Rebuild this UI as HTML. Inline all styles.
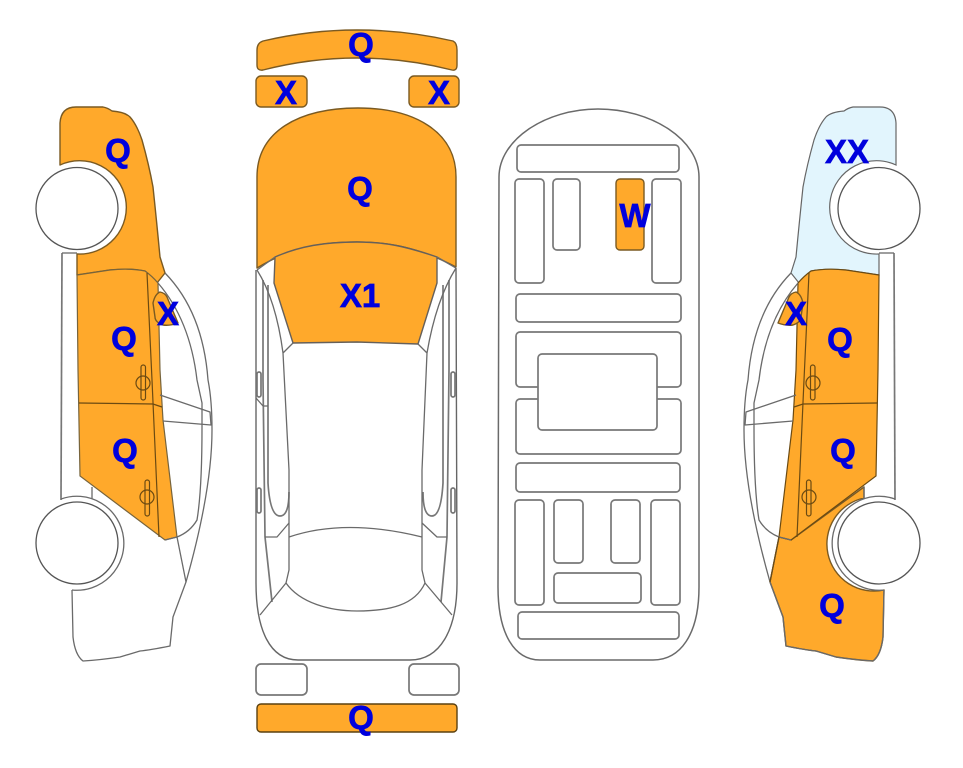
<!DOCTYPE html>
<html><head><meta charset="utf-8"><style>
html,body{margin:0;padding:0;background:#fff;width:963px;height:768px;overflow:hidden}
svg{display:block}
text{font-family:"Liberation Sans",sans-serif;font-weight:bold;font-size:33px;fill:#0000dd;stroke:#0000dd;stroke-width:.7;text-anchor:middle}
.o{fill:#ffa92b;stroke:#7a5a22;stroke-width:1.4;stroke-linejoin:round}
.l{fill:none;stroke:#6a6a6a;stroke-width:1.3;stroke-linejoin:round}
.g{fill:none;stroke:#777;stroke-width:1.7}
.d{fill:none;stroke:#6b4a12;stroke-width:1.2}
</style></head><body>
<svg width="963" height="768" viewBox="0 0 963 768" xmlns="http://www.w3.org/2000/svg">
<defs>
<g id="body">
<path class="l" d="M165,273 Q203,312 208,380 Q212,400 212,430 Q212,490 186,582 L173,617 L170,646 Q150,650 140,651 L120,657 Q100,660 83,661 Q75,655 73,637 L72,590"/>
<path class="l" d="M158,283 Q190,320 197,380 L202,403 L202,427 Q202,490 197,520 Q190,532 177,537 L165,540"/>
<path class="l" d="M160,395 L210,412 L211,425 L163,421"/>
<path class="l" d="M177,537 L186,582"/>
<path class="g" d="M62,253 L61,500"/>
<path class="l" d="M92,487 L92,499"/>
<path class="l" d="M72,590 A47,47 0 1 0 61,499"/>
</g>
<g id="doors">
<path class="d" d="M147,273 L152,380 L159,537"/>
<path class="d" d="M79,403 L153,404 L162,407"/>
<rect class="d" x="141" y="365" width="4.5" height="35" rx="2.2"/>
<circle class="d" cx="143" cy="383" r="7"/>
<rect class="d" x="145" y="480" width="4.5" height="36" rx="2.2"/>
<circle class="d" cx="147" cy="497" r="7"/>
</g>
<g id="wheels">
<circle cx="77" cy="208.5" r="41" fill="#fff" stroke="#555" stroke-width="1.3"/>
<circle cx="77" cy="543" r="41" fill="#fff" stroke="#555" stroke-width="1.3"/>
</g>
</defs>

<!-- left side -->
<path class="o" d="M60,165 L60,123 Q61,107 76,107 L103,107 Q108,108 112,111 Q125,112 130,117 Q137,125 142,140 Q149,165 153,187 Q157,225 160,257 L165,273 L157,283 Q150,275 145,271 Q130,268 110,270 L77,275 L77,254 A46.7,46.7 0 1 0 60,165 Z"/>
<path d="M77,275 L110,270 Q130,268 145,271 Q152,276 158,283 L160,370 L163,420 L177,537 L165,540 L80,476 L78,370 Z" fill="#ffa92b" stroke="#77643c" stroke-width="1.2"/>
<use href="#body"/>
<use href="#doors"/>
<path class="o" d="M153,303 Q155,294 160,292 Q165,293 167,297 L178,323 Q170,326 163,325 Q155,322 155,317 Z"/>
<path class="l" d="M62,253 L77,253"/>
<use href="#wheels"/>

<!-- right side -->
<g transform="translate(956,0) scale(-1,1)">
<path d="M60,165 L60,123 Q61,107 76,107 L103,107 Q108,108 112,111 Q125,112 130,117 Q137,125 142,140 Q149,165 153,187 Q157,225 160,257 L165,273 L157,283 Q150,275 145,271 Q130,268 110,270 L77,275 L77,254 A46.7,46.7 0 1 0 60,165 Z" fill="#e2f5fd" stroke="#666" stroke-width="1.2"/>
<path class="o" d="M177,537 L186,582 L173,617 L170,646 Q150,650 140,651 L120,657 Q100,660 83,661 Q75,655 73,637 L72,590 A47,47 0 1 0 92,498 L92,487 L165,540 Z"/>
<path d="M77,275 L110,270 Q130,268 145,271 Q152,276 158,283 L160,370 L163,420 L177,537 L165,540 L80,476 L78,370 Z" fill="#ffa92b" stroke="#6b4a12" stroke-width="1.2"/>
<use href="#body"/>
<use href="#doors"/>
<path class="d" d="M177,537 L186,582"/>
<path class="o" d="M153,303 Q155,294 160,292 Q165,293 167,297 L178,323 Q170,326 163,325 Q155,322 155,317 Z"/>
<path class="l" d="M62,253 L77,253"/>
<use href="#wheels"/>
</g>

<!-- top view -->
<path class="o" d="M257,50 Q257,43 263,41 Q310,30 357,30 Q405,30 453,41 Q457,43 457,50 L457,65 Q457,71 452,70 Q405,58 357,58 Q310,58 263,70 Q257,71 257,65 Z"/>
<rect class="o" x="256" y="76" width="51" height="31" rx="5"/>
<rect class="o" x="409" y="76" width="50" height="31" rx="5"/>
<path class="o" d="M257,268 L257,177 C257,132 298,108 358,108 C415,108 456,132 456,177 L456,267 C420,248 390,242 357,242 C320,242 290,248 257,268 Z"/>
<path class="o" d="M275,257 L274,283 L293,343 L357,342 L418,344 L437,283 L437,257 C405,246 385,242 357,242 C325,242 300,246 275,257 Z" style="stroke:#66605a"/>
<path class="g" d="M256,270 L256,583 C256,630 270,660 298,660 L410,660 C440,660 457,630 457,583 L456,268" style="stroke-width:1.4;stroke:#666"/>
<path class="l" d="M257,270 L275,257 M456,268 L437,257"/>
<path class="g" d="M263,280 L263,380 L265,537 L272,602"/>
<path class="g" d="M268,285 L268,483 Q270,516 280,516 Q289,516 289,492"/>
<path class="l" d="M257,270 Q276,300 283,353 L293,343 M283,353 L289,470 L289,570 L286,583"/>
<path class="l" d="M289,537 Q345,518 422,537"/>
<path class="g" d="M449,280 L449,370 L447,537 L441,602"/>
<path class="g" d="M443,285 L443,483 Q441,516 432,516 Q423,516 423,492"/>
<path class="l" d="M456,268 Q436,300 427,353 L418,344 M427,353 L422,470 L422,570 L425,583"/>
<path class="l" d="M260,615 L286,583 C300,603 330,611 357,611 C390,611 415,605 425,583 L452,615"/>
<path class="l" d="M265,537 L277,537 L289,523 M447,537 L437,537 L422,523"/>
<path class="l" d="M256,398 L263,406 L268,406"/>
<rect class="g" x="257" y="372" width="4" height="25" rx="2"/>
<rect class="g" x="257" y="488" width="4" height="25" rx="2"/>
<rect class="g" x="451" y="372" width="4" height="25" rx="2"/>
<rect class="g" x="451" y="488" width="4" height="25" rx="2"/>
<rect class="g" x="256" y="664" width="51" height="31" rx="5"/>
<rect class="g" x="409" y="664" width="50" height="31" rx="5"/>
<rect class="o" x="257" y="704" width="200" height="28" rx="4" style="stroke:#5a4010"/>

<!-- interior -->
<path class="l" d="M499,177 C499,140 545,109 598,109 C652,109 699,140 699,177 L699,587 C699,635 680,660 653,660 L540,660 C515,660 498,635 498,587 Z" style="stroke-width:1.5"/>
<g class="g" fill="none" stroke="#777" stroke-width="1.7">
<rect x="517" y="145" width="162" height="27" rx="4" fill="none"/>
<rect x="515" y="179" width="29" height="104" rx="4" fill="none"/>
<rect x="553" y="179" width="27" height="71" rx="4" fill="none"/>
<rect x="652" y="179" width="29" height="104" rx="4" fill="none"/>
<rect x="516" y="294" width="165" height="28" rx="4" fill="none"/>
<rect x="516" y="332" width="165" height="55" rx="4" fill="none"/>
<rect x="516" y="399" width="165" height="55" rx="4" fill="none"/>
<rect x="538" y="354" width="119" height="76" rx="4" fill="#fff"/>
<rect x="516" y="463" width="164" height="29" rx="4" fill="none"/>
<rect x="515" y="500" width="29" height="105" rx="4" fill="none"/>
<rect x="554" y="500" width="29" height="63" rx="4" fill="none"/>
<rect x="611" y="500" width="29" height="63" rx="4" fill="none"/>
<rect x="651" y="500" width="29" height="105" rx="4" fill="none"/>
<rect x="554" y="573" width="87" height="30" rx="4" fill="none"/>
<rect x="518" y="612" width="161" height="27" rx="4" fill="none"/>
</g>
<rect class="o" x="616" y="179" width="28" height="71" rx="4"/>

<!-- labels -->
<text x="361" y="56">Q</text>
<text x="286" y="104">X</text>
<text x="439" y="104">X</text>
<text x="360" y="200">Q</text>
<text x="360" y="307">X1</text>
<text x="361" y="729">Q</text>
<text x="635" y="227">W</text>
<text x="118" y="162">Q</text>
<text x="168" y="325">X</text>
<text x="124" y="350">Q</text>
<text x="125" y="462">Q</text>
<text x="847" y="163">XX</text>
<text x="796" y="325">X</text>
<text x="840" y="351">Q</text>
<text x="843" y="462">Q</text>
<text x="832" y="617">Q</text>
</svg>
</body></html>
